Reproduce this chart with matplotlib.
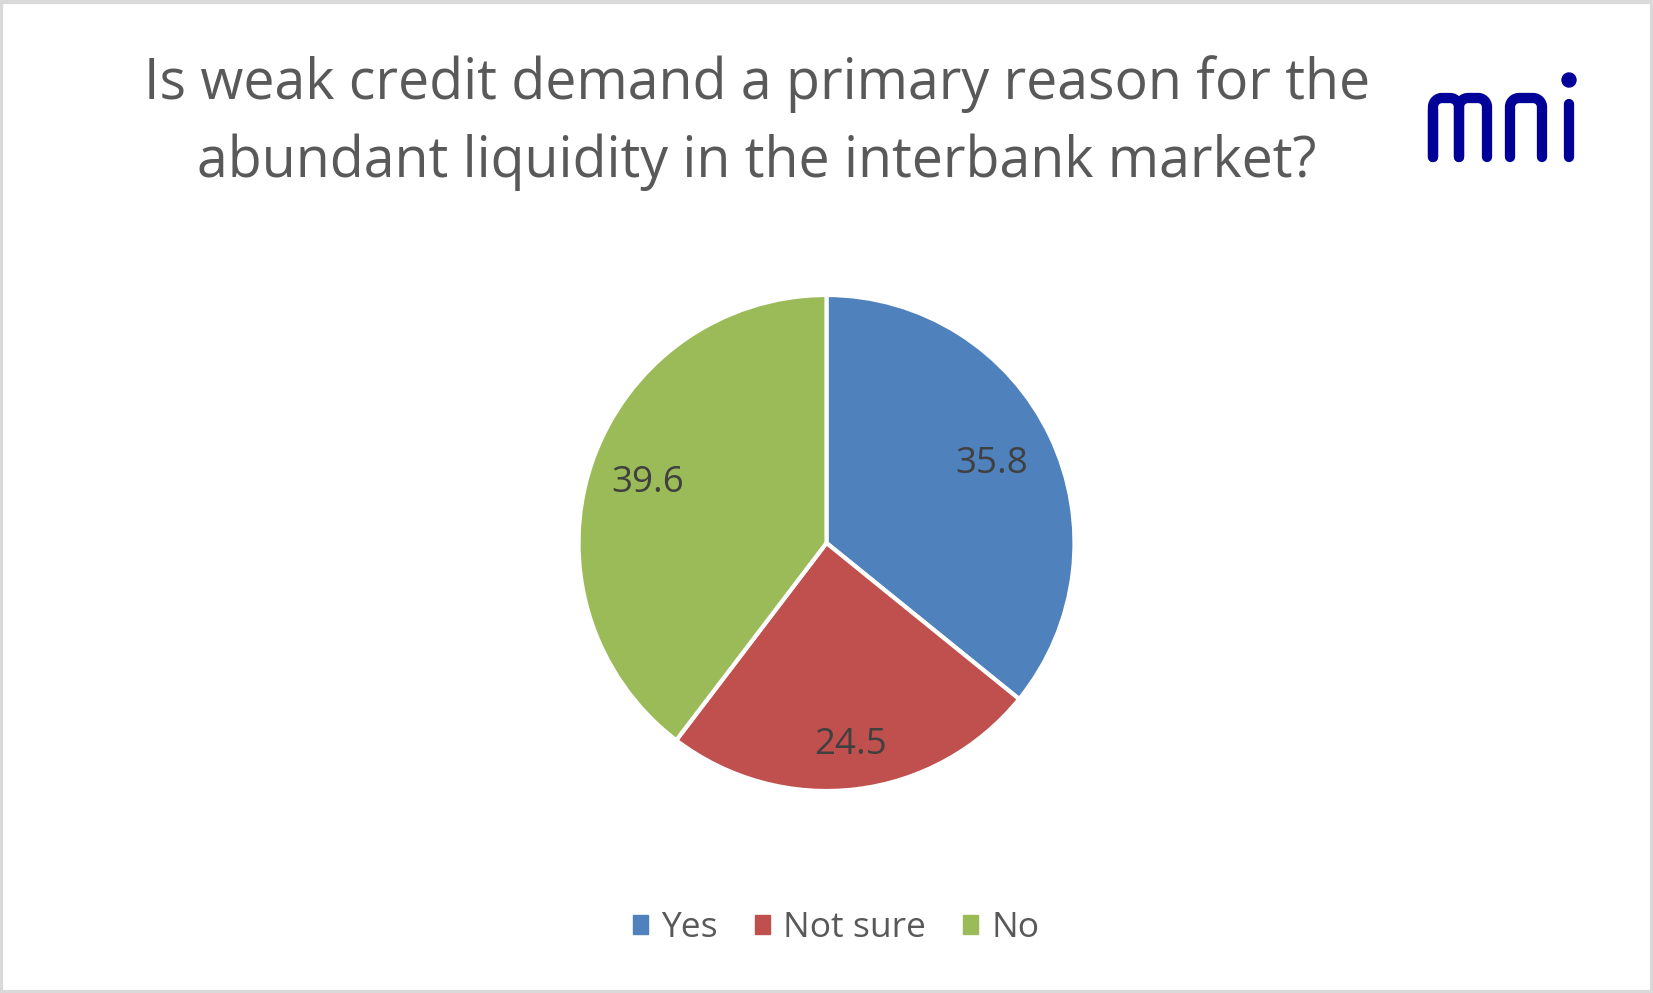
import numpy as np
import matplotlib
matplotlib.use("Agg")
import matplotlib.pyplot as plt
from matplotlib.patches import Rectangle, Circle

plt.rcParams['font.family'] = ['Open Sans', 'DejaVu Sans']

# data
categories = ['Yes', 'Not sure', 'No']
values = [35.8, 24.5, 39.6]
colors = ['#4F81BD', '#C0504D', '#9BBB59']
label_radius = [0.74, 0.82, 0.76]

title = 'Is weak credit demand a primary reason for the\nabundant liquidity in the interbank market?'

W, H = 1653, 993
fig = plt.figure(figsize=(W / 100, H / 100), dpi=100)
fig.patch.set_facecolor('white')

# outer grey frame
fig.add_artist(Rectangle((0.0008, 0.001), 0.9984, 0.997, transform=fig.transFigure,
                         fill=False, edgecolor='#D9D9D9', linewidth=3))

# pie axes: centre at (826, 543) px, radius 248 px
r_px = 248
cx, cy = 826.5, 543
ax = fig.add_axes([(cx - r_px) / W, (H - cy - r_px) / H, 2 * r_px / W, 2 * r_px / H])
wedges, _ = ax.pie(values, colors=colors, startangle=90, counterclock=False,
                   radius=1, wedgeprops=dict(edgecolor='white', linewidth=3))
for w, val, lr in zip(wedges, values, label_radius):
    ang = np.deg2rad((w.theta1 + w.theta2) / 2)
    ax.text(lr * np.cos(ang), lr * np.sin(ang), f'{val:.1f}', ha='center', va='center',
            fontsize=26.5, color='#404040')
ax.set_xlim(-1, 1)
ax.set_ylim(-1, 1)
ax.set_aspect('equal')
ax.axis('off')

# title
fig.text(757 / W, 1 - 123 / H, title, ha='center', va='center', fontsize=40,
         color='#595959', linespacing=1.46)

# logo drawn as thick rounded strokes in pixel coords
lx = fig.add_axes([0, 0, 1, 1], zorder=5)
lx.set_xlim(0, W)
lx.set_ylim(H, 0)
lx.axis('off')
logo_col = '#000099'
lw = 7.4


def arch(x0, x1, top=98, bottom=157, rc=9):
    t = np.linspace(np.pi, 1.5 * np.pi, 12)
    left = np.column_stack([x0 + rc + rc * np.cos(t), top + rc + rc * np.sin(t)])
    t2 = np.linspace(1.5 * np.pi, 2 * np.pi, 12)
    right = np.column_stack([x1 - rc + rc * np.cos(t2), top + rc + rc * np.sin(t2)])
    pts = np.vstack([[x0, bottom], left, right, [x1, bottom]])
    lx.plot(pts[:, 0], pts[:, 1], color=logo_col, lw=lw,
            solid_capstyle='round', solid_joinstyle='round')


arch(1433, 1459)
arch(1459, 1487)
lx.plot([1433, 1433], [110, 157], color=logo_col, lw=lw, solid_capstyle='round')
arch(1510, 1542)
lx.plot([1569, 1569], [104, 157], color=logo_col, lw=lw, solid_capstyle='round')
lx.add_patch(Circle((1569, 80), 7, color=logo_col))

# legend
handles = [Rectangle((0, 0), 1, 1, color=c) for c in colors]
fig.legend(handles, categories, loc='center', bbox_to_anchor=(836 / W, 1 - 928 / H),
           ncol=3, frameon=False, fontsize=25.5, labelcolor='#595959',
           handlelength=0.42, handleheight=0.42, handletextpad=0.38, columnspacing=1.04)

fig.savefig('out.png', dpi=100)
